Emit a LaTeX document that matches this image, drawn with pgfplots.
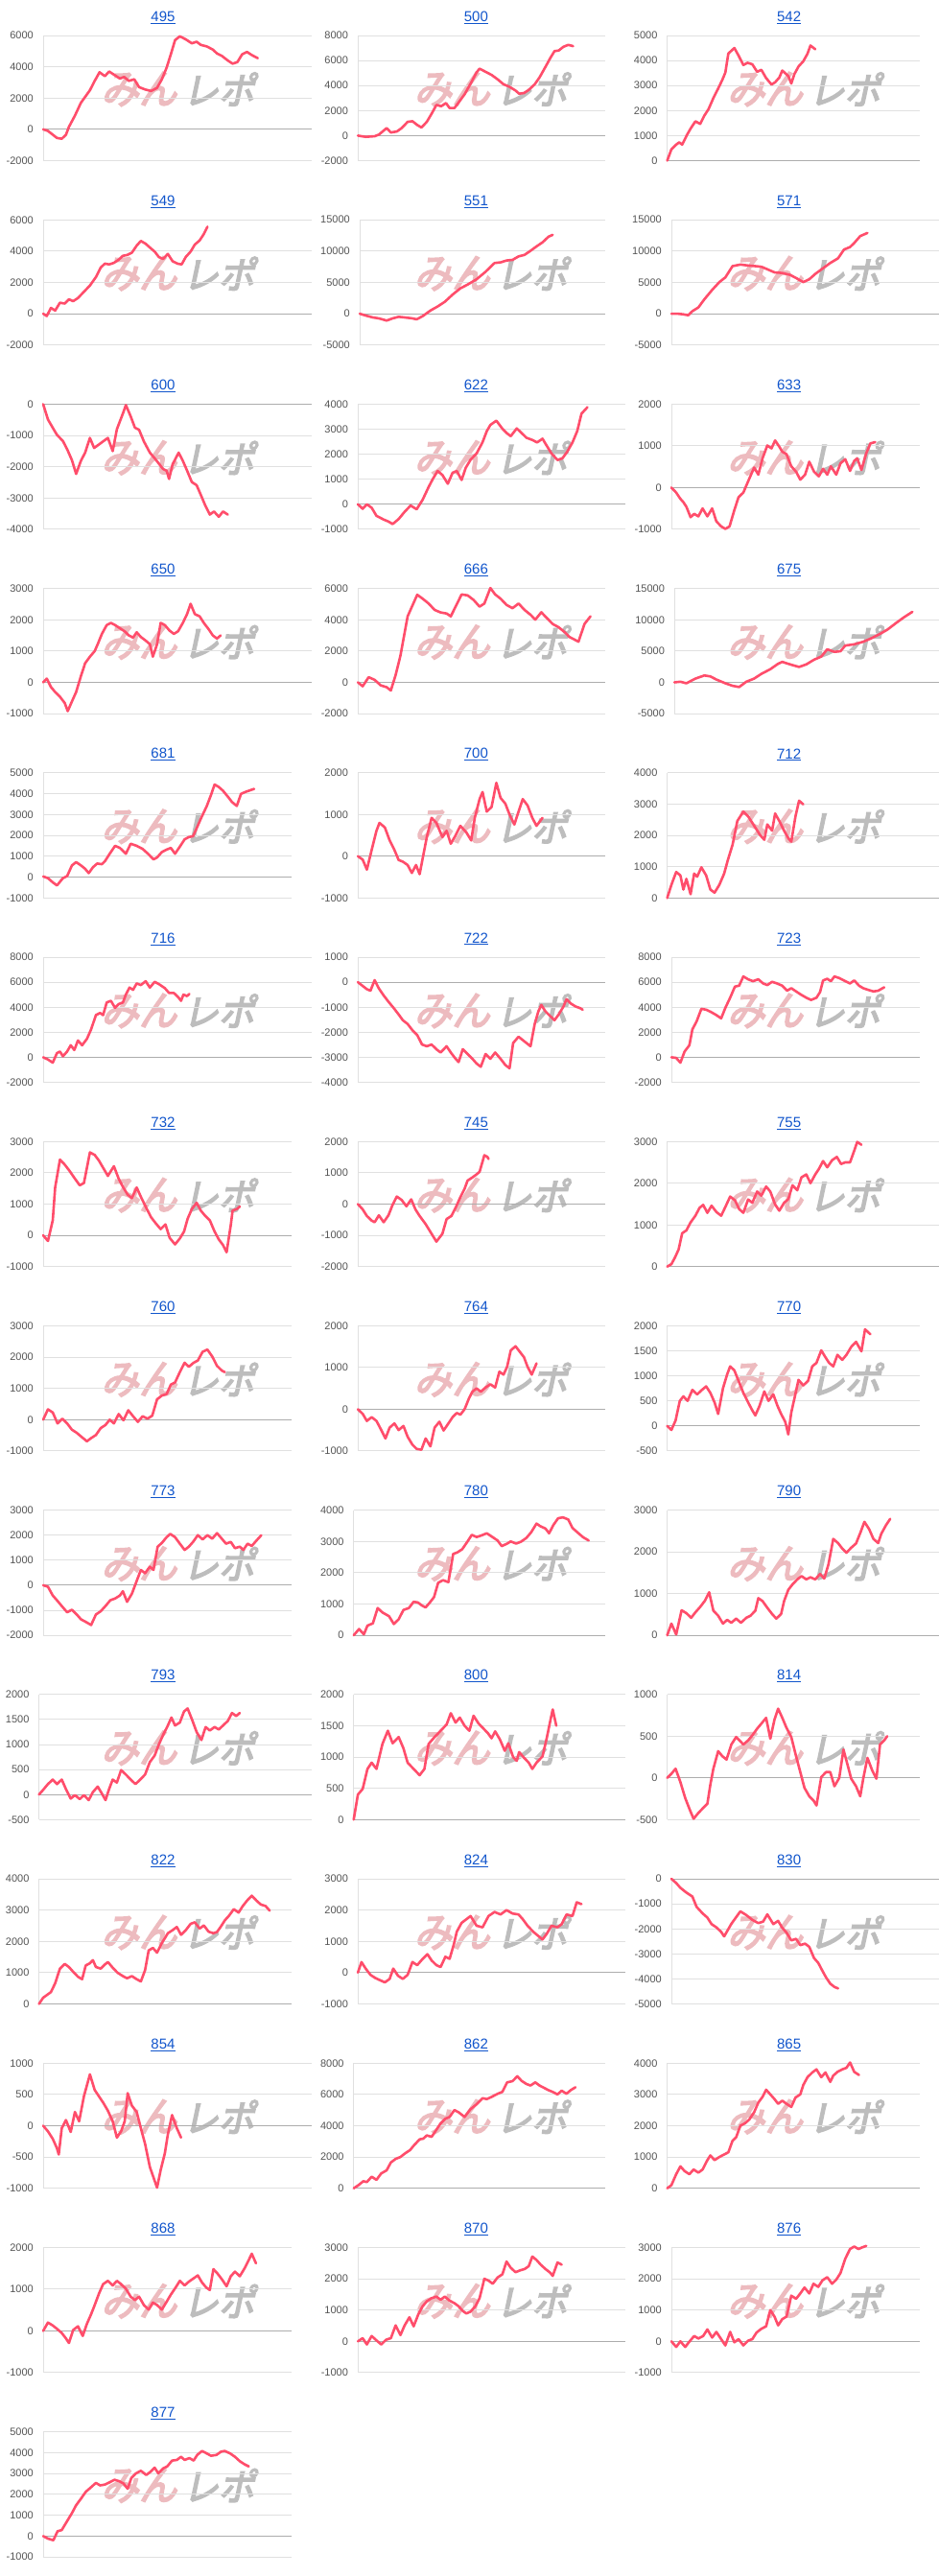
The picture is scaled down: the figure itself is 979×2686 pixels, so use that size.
\documentclass[border=0pt]{standalone}
\usepackage{pgfplots}
\pgfplotsset{compat=1.18}
\usepackage{fontspec}
\setmainfont{Liberation Sans}
\newfontfamily\wmfont[FakeBold=4,FakeSlant=0.22]{Noto Sans CJK JP}
\definecolor{linecol}{HTML}{FF4D6B}
\definecolor{gridcol}{HTML}{E0E0E0}
\definecolor{basecol}{HTML}{ADADAD}
\definecolor{tickcol}{HTML}{555555}
\definecolor{titlecol}{HTML}{1155CC}
\definecolor{wmpink}{HTML}{EDBBBF}
\definecolor{wmgray}{HTML}{BDBDBD}
\pgfplotsset{mini/.style={scale only axis, height=130.5pt,
  axis x line=none, axis y line*=left,
  y axis line style={draw=gridcol, line width=1pt},
  xtick=\empty, ymajorgrids, major grid style={draw=gridcol, line width=1pt},
  major tick length=0pt, tick style={draw=none}, scaled y ticks=false,
  yticklabel style={font=\fontsize{11}{13}\selectfont, text=tickcol, anchor=east, inner sep=0pt, xshift=-10pt,
    /pgf/number format/fixed, /pgf/number format/precision=0,
    /pgf/number format/1000 sep={}, /pgf/number format/assume math mode=true},
  extra y ticks={0}, extra y tick labels={},
  extra y tick style={grid=major, major grid style={draw=basecol, line width=1pt}},
  clip=false}}
% #1 L, #2 R (display units), #3 row, #4 col, #5 ymin, #6 ymax, #7 step, #8 title, #9 coords
\newcommand{\chart}[9]{%
  \pgfmathsetmacro\Lx{#1/1.6}%
  \pgfmathsetmacro\Wd{(#2-#1)/1.6}%
  \pgfmathsetmacro\Ty{-(#3*192.2)}%
  \pgfmathsetmacro\By{\Ty-167.5}%
  \pgfmathsetmacro\Tx{#4*326.33+170}%
  \pgfmathsetmacro\Tt{\Ty-18}%
  \pgfmathsetmacro\Wa{#4*326.33+145}%
  \pgfmathsetmacro\Wb{#4*326.33+228}%
  \pgfmathsetmacro\Wy{\Ty-93}%
  \node[text=wmpink, inner sep=0pt] at (\Wa pt,\Wy pt) {\resizebox{79pt}{33pt}{\wmfont みん}};
  \node[text=wmgray, inner sep=0pt] at (\Wb pt,\Wy pt) {\resizebox{75pt}{33pt}{\wmfont レポ}};
  \node[font=\fontsize{15}{18}\selectfont, text=titlecol, inner sep=0pt] at (\Tx pt,\Tt pt) {\underline{#8}};
  \begin{axis}[mini, at={(\Lx pt,\By pt)}, anchor=south west, width=\Wd pt,
    xmin=#1, xmax=#2, ymin=#5, ymax=#6, ytick distance=#7]
  \addplot[linecol, line width=2.6pt, line join=round, line cap=round, mark=none] coordinates {#9};
  \end{axis}%
}
\begin{document}
\begin{tikzpicture}[x=1pt,y=1pt]
\useasboundingbox (0,0) rectangle (979pt,-2686pt);
\fill[white] (0,0) rectangle (979pt,-2686pt);
% row 0
\chart{72}{520}{0}{0}{-2000}{6000}{2000}{495}{(72,0)(80,-100)(95,-550)(103,-600)(110,-350)(115,160)(125,880)(135,1700)(150,2500)(158,3100)(166,3650)(175,3400)(182,3700)(192,3450)(200,3250)(207,3350)(215,3100)(224,3200)(232,2700)(242,2550)(252,2450)(262,2650)(270,3200)(278,3950)(285,4800)(292,5700)(300,5950)(310,5750)(320,5500)(328,5600)(335,5400)(345,5300)(355,5100)(362,4850)(370,4700)(380,4400)(388,4200)(396,4300)(404,4800)(412,4950)(420,4750)(430,4550)}
\chart{597}{1010}{0}{1}{-2000}{8000}{2000}{500}{(597,0)(610,-100)(625,-50)(632,80)(645,600)(652,250)(662,330)(670,600)(680,1100)(688,1150)(696,850)(703,650)(712,1100)(720,1750)(728,2450)(736,2350)(744,2600)(750,2200)(758,2200)(765,2650)(775,3300)(785,4150)(795,5050)(800,5350)(810,5100)(820,4850)(830,4500)(840,4100)(850,3900)(860,3600)(866,3350)(874,3400)(882,3650)(892,4100)(900,4650)(910,5500)(918,6200)(925,6750)(932,6800)(940,7100)(948,7250)(956,7150)}
\chart{1113}{1535}{0}{2}{0}{5000}{1000}{542}{(1113,0)(1120,450)(1128,640)(1133,730)(1138,640)(1146,1030)(1152,1280)(1160,1570)(1168,1470)(1175,1800)(1182,2060)(1190,2500)(1198,2880)(1205,3230)(1210,3520)(1215,4280)(1225,4500)(1232,4200)(1240,3820)(1247,3910)(1255,3850)(1263,3550)(1270,3630)(1278,3300)(1287,3040)(1293,3130)(1300,3320)(1305,3600)(1315,3380)(1320,3080)(1325,3450)(1332,3760)(1340,3970)(1347,4270)(1352,4600)(1360,4450)}
% row 1
\chart{72}{520}{1}{0}{-2000}{6000}{2000}{549}{(72,0)(78,-150)(85,370)(92,200)(100,700)(108,650)(115,920)(122,800)(130,1000)(140,1400)(150,1800)(160,2340)(168,2950)(175,3200)(182,3150)(190,3250)(198,3450)(205,3700)(212,3750)(220,3900)(228,4350)(235,4650)(243,4470)(250,4230)(258,3970)(265,3620)(272,3500)(280,3820)(288,3350)(296,3200)(303,3150)(310,3630)(318,3970)(325,4420)(333,4680)(340,5090)(346,5560)}
\chart{600}{1010}{1}{1}{-5000}{15000}{5000}{551}{(600,0)(612,-350)(622,-600)(632,-750)(645,-1100)(655,-750)(665,-500)(675,-600)(688,-750)(695,-900)(705,-400)(718,500)(730,1150)(742,1900)(755,3050)(768,4050)(780,4650)(795,5500)(810,6700)(825,8100)(835,8200)(845,8500)(855,8600)(865,9150)(875,9400)(885,10050)(895,10750)(905,11400)(915,12300)(922,12600)}
\chart{1120}{1568}{1}{2}{-5000}{15000}{5000}{571}{(1120,0)(1130,0)(1140,-100)(1148,-250)(1155,400)(1165,1000)(1175,2300)(1188,3800)(1200,5050)(1210,5800)(1222,7600)(1235,7850)(1248,7700)(1260,7600)(1270,7500)(1280,7100)(1292,6600)(1305,6500)(1318,6200)(1328,5700)(1340,5050)(1350,5500)(1360,6350)(1372,7200)(1385,8100)(1398,8850)(1408,10250)(1418,10650)(1425,11300)(1435,12400)(1447,12900)}
% row 2
\chart{72}{520}{2}{0}{-4000}{0}{1000}{600}{(72,0)(80,-490)(90,-820)(95,-980)(105,-1180)(112,-1440)(120,-1790)(127,-2230)(135,-1810)(142,-1550)(150,-1080)(157,-1400)(165,-1290)(172,-1190)(180,-1080)(188,-1500)(195,-800)(205,-300)(210,-30)(218,-390)(225,-750)(232,-820)(240,-1190)(250,-1550)(258,-1730)(265,-1900)(272,-2070)(278,-2130)(282,-2390)(288,-1920)(298,-1550)(305,-1810)(312,-2120)(320,-2490)(328,-2590)(335,-2900)(342,-3220)(350,-3530)(357,-3430)(365,-3600)(372,-3430)(380,-3530)}
\chart{597}{1043}{2}{1}{-1000}{4000}{1000}{622}{(597,0)(605,-180)(612,0)(620,-140)(628,-460)(640,-610)(648,-690)(655,-790)(665,-590)(675,-300)(685,-50)(695,-200)(705,180)(715,690)(722,1010)(730,1330)(738,1170)(747,820)(755,1260)(762,1330)(770,970)(777,1460)(785,1780)(795,2030)(805,2480)(812,2920)(818,3170)(828,3340)(838,3020)(845,2850)(852,2720)(862,3030)(870,2850)(878,2660)(888,2570)(896,2470)(905,2620)(912,2340)(920,2030)(930,1770)(938,1830)(946,2090)(955,2470)(963,2930)(970,3620)(980,3880)}
\chart{1120}{1535}{2}{2}{-1000}{2000}{1000}{633}{(1120,0)(1128,-120)(1135,-270)(1140,-350)(1145,-460)(1152,-710)(1158,-630)(1165,-690)(1172,-500)(1180,-690)(1188,-500)(1195,-810)(1203,-930)(1210,-990)(1217,-930)(1225,-540)(1232,-230)(1240,-120)(1248,150)(1258,480)(1265,310)(1272,700)(1280,1010)(1287,940)(1293,1130)(1300,980)(1305,860)(1312,800)(1320,510)(1328,380)(1335,190)(1343,310)(1350,620)(1358,380)(1366,270)(1373,450)(1380,310)(1386,510)(1395,310)(1402,580)(1410,680)(1418,400)(1425,640)(1430,700)(1437,420)(1445,820)(1452,1060)(1460,1090)}
% row 3
\chart{72}{520}{3}{0}{-1000}{3000}{1000}{650}{(72,0)(78,120)(85,-150)(92,-310)(100,-460)(108,-660)(113,-920)(120,-610)(127,-310)(135,200)(142,610)(150,820)(158,1000)(163,1220)(170,1550)(178,1830)(185,1900)(192,1830)(200,1730)(208,1630)(215,1500)(222,1430)(228,1600)(235,1450)(242,1350)(250,1220)(255,820)(262,1220)(268,1900)(275,1830)(283,1650)(290,1550)(297,1630)(305,1900)(312,2180)(318,2510)(325,2180)(333,2110)(340,1900)(348,1700)(355,1500)(362,1400)(368,1500)}
\chart{597}{1010}{3}{1}{-2000}{6000}{2000}{666}{(597,0)(605,-250)(615,330)(625,160)(635,-190)(645,-310)(652,-520)(660,470)(668,1710)(680,4220)(696,5600)(705,5350)(715,5040)(725,4630)(735,4470)(745,4400)(752,4220)(760,4840)(770,5620)(780,5560)(790,5270)(800,4840)(808,5040)(818,6030)(826,5620)(835,5350)(845,4950)(855,4740)(865,5040)(875,4630)(885,4320)(893,4010)(903,4480)(912,4120)(922,3730)(932,3520)(942,3210)(950,2900)(960,2700)(965,2600)(975,3730)(985,4220)}
\chart{1125}{1568}{3}{2}{-5000}{15000}{5000}{675}{(1125,0)(1135,100)(1145,-150)(1160,600)(1175,1100)(1185,950)(1195,450)(1210,-150)(1222,-550)(1233,-750)(1245,100)(1258,600)(1270,1350)(1285,2100)(1298,2970)(1305,3270)(1318,2870)(1333,2460)(1345,2870)(1358,3620)(1370,4120)(1380,5280)(1392,4870)(1402,4970)(1410,5880)(1425,6080)(1440,6490)(1452,6980)(1465,7590)(1480,8400)(1495,9500)(1508,10400)(1522,11270)}
% row 4
\chart{72}{487}{4}{0}{-1000}{5000}{1000}{681}{(72,30)(80,-50)(88,-250)(95,-400)(105,-50)(112,50)(120,560)(127,720)(135,560)(142,400)(148,190)(155,470)(162,650)(170,620)(175,760)(183,1120)(192,1500)(200,1400)(210,1120)(218,1600)(228,1500)(238,1350)(248,1090)(256,850)(262,940)(270,1200)(278,1320)(285,1400)(292,1120)(300,1460)(308,1810)(315,1920)(322,1960)(328,2340)(335,2800)(345,3410)(352,3940)(358,4440)(365,4320)(372,4140)(380,3860)(387,3600)(395,3410)(402,3990)(410,4090)(418,4170)(424,4230)}
\chart{597}{1010}{4}{1}{-1000}{2000}{1000}{700}{(597,0)(605,-80)(612,-320)(620,150)(628,610)(633,800)(642,690)(650,380)(658,150)(665,-90)(672,-130)(680,-210)(687,-400)(694,-210)(700,-430)(712,460)(720,920)(728,800)(738,460)(745,610)(752,300)(760,500)(768,730)(778,570)(786,380)(792,920)(800,1370)(805,1540)(812,1070)(820,1180)(828,1760)(835,1400)(843,1260)(850,1000)(858,760)(865,1070)(872,1370)(880,1220)(888,920)(895,730)(905,920)}
\chart{1113}{1568}{4}{2}{0}{4000}{1000}{712}{(1113,0)(1120,420)(1128,830)(1135,720)(1140,270)(1145,610)(1152,120)(1158,780)(1163,680)(1170,980)(1178,720)(1185,270)(1192,170)(1200,420)(1208,780)(1214,1200)(1222,1700)(1230,2460)(1240,2760)(1248,2610)(1258,2310)(1268,2010)(1275,1860)(1280,2350)(1288,2150)(1293,2700)(1300,2460)(1308,2150)(1315,1910)(1320,1800)(1327,2610)(1333,3110)(1340,2990)}
% row 5
\chart{72}{520}{5}{0}{-2000}{8000}{2000}{716}{(72,0)(80,-180)(88,-430)(95,330)(100,460)(105,80)(112,460)(118,960)(124,580)(130,1340)(137,960)(145,1470)(152,2230)(160,3370)(167,3540)(172,3370)(178,4380)(185,4510)(192,3950)(198,4250)(205,4380)(210,5010)(216,5570)(222,5390)(228,5900)(235,5770)(243,6080)(250,5570)(258,6030)(266,5820)(275,5520)(282,5140)(290,5140)(298,4760)(302,4510)(306,5010)(312,4890)(316,5060)}
\chart{597}{1010}{5}{1}{-4000}{1000}{1000}{722}{(597,0)(605,-150)(612,-280)(618,-340)(625,80)(632,-250)(640,-530)(648,-780)(657,-1040)(665,-1290)(672,-1520)(680,-1670)(688,-1920)(696,-2110)(704,-2490)(712,-2560)(720,-2490)(728,-2680)(735,-2810)(745,-2560)(752,-2810)(760,-3060)(765,-3190)(772,-2680)(780,-2870)(788,-3060)(795,-3250)(802,-3380)(810,-2870)(818,-3060)(826,-2810)(835,-3060)(843,-3310)(850,-3440)(856,-2430)(865,-2180)(875,-2370)(885,-2560)(892,-1670)(898,-1170)(903,-910)(910,-1170)(918,-1360)(925,-1520)(932,-1290)(940,-970)(945,-680)(952,-850)(960,-970)(968,-1040)(972,-1100)}
\chart{1120}{1535}{5}{2}{-2000}{8000}{2000}{723}{(1120,0)(1128,-50)(1135,-430)(1142,460)(1150,960)(1155,2230)(1162,2860)(1170,3870)(1178,3800)(1186,3620)(1195,3370)(1203,3110)(1210,3950)(1218,4760)(1226,5650)(1233,5720)(1240,6460)(1248,6230)(1256,6080)(1265,6230)(1273,5900)(1280,5770)(1288,6030)(1296,5900)(1305,5720)(1313,5320)(1320,5520)(1328,5260)(1336,5010)(1345,4760)(1353,4580)(1362,4760)(1368,5210)(1373,6140)(1380,6270)(1386,6080)(1392,6460)(1400,6330)(1410,6080)(1418,5900)(1425,6140)(1433,5720)(1440,5520)(1448,5390)(1457,5260)(1465,5320)(1475,5590)}
% row 6
\chart{72}{487}{6}{0}{-1000}{3000}{1000}{732}{(72,0)(80,-180)(88,480)(92,1530)(100,2420)(108,2260)(116,2060)(125,1810)(133,1600)(140,1670)(150,2650)(158,2570)(165,2390)(172,2160)(180,1900)(190,2210)(198,1810)(205,1550)(213,1300)(220,1190)(228,1530)(236,1190)(245,840)(252,580)(260,380)(268,200)(276,350)(283,-80)(292,-290)(300,-100)(307,120)(313,530)(320,840)(328,1040)(335,790)(342,630)(350,480)(358,120)(365,-130)(372,-310)(378,-540)(385,330)(388,790)(395,840)(400,920)}
\chart{597}{1010}{6}{1}{-2000}{2000}{1000}{745}{(597,0)(605,-170)(612,-380)(620,-530)(625,-580)(632,-360)(640,-580)(648,-360)(655,-20)(662,240)(670,130)(678,-70)(686,150)(693,-170)(700,-380)(710,-640)(718,-890)(728,-1200)(738,-950)(745,-480)(753,-380)(760,-120)(767,180)(775,490)(780,750)(788,850)(795,950)(800,1030)(805,1360)(808,1560)(813,1510)(815,1440)}
\chart{1113}{1568}{6}{2}{0}{3000}{1000}{755}{(1113,0)(1120,60)(1126,220)(1132,410)(1138,800)(1145,870)(1152,1060)(1160,1220)(1167,1410)(1173,1480)(1180,1290)(1187,1460)(1195,1310)(1203,1220)(1210,1430)(1218,1680)(1226,1590)(1233,1380)(1240,1290)(1248,1610)(1255,1530)(1263,1800)(1270,1700)(1278,1920)(1285,1800)(1293,1490)(1300,1340)(1308,1530)(1315,1620)(1322,1950)(1330,1830)(1337,2140)(1345,2210)(1352,2000)(1360,2210)(1366,2340)(1373,2530)(1380,2380)(1388,2550)(1396,2630)(1403,2460)(1410,2500)(1418,2500)(1425,2780)(1430,2990)(1437,2920)}
% row 7
\chart{72}{487}{7}{0}{-1000}{3000}{1000}{760}{(72,0)(80,330)(88,230)(96,-120)(104,30)(112,-120)(120,-320)(128,-420)(136,-550)(145,-690)(152,-590)(160,-490)(168,-270)(176,-170)(183,0)(190,-120)(198,180)(206,-20)(214,300)(222,110)(230,-70)(238,110)(246,30)(254,130)(262,650)(270,770)(278,820)(285,1120)(292,1190)(300,1520)(308,1820)(315,1690)(323,1820)(330,1890)(338,2170)(346,2240)(354,2020)(362,1720)(370,1570)(375,1520)}
\chart{597}{1010}{7}{1}{-1000}{2000}{1000}{764}{(597,0)(605,-110)(612,-280)(620,-190)(628,-280)(635,-470)(643,-700)(650,-440)(658,-340)(665,-500)(673,-400)(680,-660)(688,-850)(695,-950)(703,-970)(710,-700)(718,-890)(725,-440)(733,-300)(740,-510)(748,-340)(755,-190)(762,-90)(768,-130)(775,0)(782,250)(788,420)(795,500)(802,420)(810,520)(818,600)(826,520)(833,900)(840,830)(846,1020)(852,1410)(860,1510)(868,1360)(874,1250)(880,1020)(887,830)(895,1100)}
\chart{1113}{1535}{7}{2}{-500}{2000}{500}{770}{(1113,0)(1120,-80)(1127,110)(1134,500)(1140,590)(1147,500)(1155,720)(1163,630)(1170,710)(1178,790)(1185,660)(1192,470)(1198,240)(1206,750)(1213,1030)(1218,1190)(1225,1110)(1232,900)(1240,660)(1248,470)(1255,310)(1260,210)(1267,400)(1275,690)(1282,500)(1290,630)(1297,400)(1303,240)(1310,80)(1315,-170)(1320,270)(1326,590)(1332,920)(1340,810)(1348,900)(1355,1190)(1362,1260)(1370,1510)(1376,1390)(1383,1260)(1390,1190)(1397,1420)(1405,1320)(1412,1420)(1420,1580)(1428,1680)(1437,1490)(1443,1930)(1452,1830)}
% row 8
\chart{72}{487}{8}{0}{-2000}{3000}{1000}{773}{(72,0)(80,-60)(88,-410)(95,-600)(103,-830)(112,-1080)(120,-980)(128,-1170)(135,-1360)(145,-1490)(152,-1590)(160,-1170)(168,-1040)(176,-830)(184,-600)(192,-530)(200,-410)(205,-240)(212,-660)(220,-340)(228,170)(235,610)(242,480)(250,740)(256,610)(263,1540)(270,1690)(278,1920)(284,2050)(292,1920)(300,1660)(308,1410)(315,1540)(322,1730)(330,2000)(338,1830)(346,2000)(354,1860)(362,2080)(370,1860)(377,1660)(385,1730)(392,1480)(400,1540)(406,1410)(413,1660)(420,1570)(428,1790)(436,2000)}
\chart{590}{1010}{8}{1}{0}{4000}{1000}{780}{(590,0)(599,200)(607,30)(613,310)(622,380)(630,870)(638,730)(649,610)(657,360)(665,510)(673,810)(682,870)(690,1070)(697,1050)(704,950)(710,890)(718,1070)(724,1220)(731,1680)(739,1760)(748,1700)(756,2600)(763,2650)(771,2750)(780,3000)(787,3210)(795,3140)(803,3190)(812,3260)(820,3160)(830,3030)(837,2850)(846,2930)(852,3000)(861,2930)(869,2990)(878,3110)(886,3290)(895,3570)(901,3490)(910,3410)(916,3260)(923,3520)(931,3740)(939,3770)(948,3700)(955,3430)(965,3260)(973,3130)(982,3030)}
\chart{1113}{1568}{8}{2}{0}{3000}{1000}{790}{(1113,0)(1120,280)(1128,20)(1137,600)(1145,530)(1153,420)(1160,550)(1168,680)(1176,830)(1183,1030)(1190,590)(1198,470)(1206,280)(1213,370)(1220,300)(1228,400)(1236,300)(1245,420)(1252,470)(1260,590)(1265,890)(1272,820)(1280,660)(1288,510)(1295,400)(1303,510)(1308,820)(1315,1090)(1322,1220)(1330,1340)(1337,1420)(1345,1340)(1352,1390)(1360,1340)(1368,1470)(1375,1360)(1382,1700)(1390,2310)(1398,2210)(1405,2080)(1412,1980)(1420,2100)(1428,2200)(1435,2450)(1442,2720)(1450,2540)(1457,2310)(1465,2210)(1470,2430)(1478,2640)(1485,2790)}
% row 9
\chart{65}{520}{9}{0}{-500}{2000}{500}{793}{(65,0)(72,95)(80,210)(88,300)(95,210)(103,300)(110,110)(118,-80)(125,-10)(133,-90)(140,-10)(148,-110)(155,50)(163,160)(170,20)(176,-110)(182,110)(188,300)(195,240)(202,490)(210,400)(218,300)(226,210)(234,300)(242,400)(250,650)(258,780)(265,1000)(272,1190)(280,1380)(286,1540)(292,1380)(300,1440)(307,1660)(313,1720)(320,1510)(328,1250)(336,1090)(343,1350)(350,1280)(358,1350)(365,1300)(372,1380)(380,1470)(387,1630)(394,1570)(400,1630)}
\chart{590}{1043}{9}{1}{0}{2000}{500}{800}{(590,0)(597,400)(605,490)(613,810)(620,910)(628,810)(638,1210)(647,1420)(655,1220)(665,1320)(673,1140)(680,910)(690,810)(700,710)(708,810)(715,1210)(725,1320)(735,1420)(745,1520)(752,1700)(760,1550)(767,1630)(775,1500)(783,1420)(790,1660)(798,1540)(806,1460)(814,1380)(820,1300)(826,1410)(834,1280)(842,1100)(848,1220)(856,1000)(862,940)(866,1080)(874,990)(882,910)(888,810)(895,910)(905,1010)(912,1300)(918,1580)(922,1760)(928,1500)}
\chart{1113}{1535}{9}{2}{-500}{1000}{500}{814}{(1113,0)(1120,50)(1127,110)(1135,-50)(1143,-240)(1150,-370)(1157,-490)(1165,-420)(1173,-360)(1180,-310)(1185,-80)(1190,110)(1198,320)(1205,260)(1212,220)(1220,400)(1228,490)(1235,440)(1240,400)(1248,450)(1255,510)(1263,590)(1270,650)(1278,720)(1285,470)(1292,700)(1298,830)(1305,720)(1312,600)(1320,490)(1328,260)(1335,70)(1342,-120)(1350,-220)(1357,-270)(1362,-330)(1370,10)(1378,70)(1385,70)(1392,-100)(1400,0)(1407,340)(1413,180)(1420,-10)(1428,-100)(1435,-220)(1440,-10)(1447,240)(1455,90)(1462,-10)(1468,400)(1475,450)(1480,500)}
% row 10
\chart{65}{487}{10}{0}{0}{4000}{1000}{822}{(65,0)(72,200)(80,310)(85,380)(92,660)(100,1130)(108,1280)(115,1180)(122,1030)(130,870)(137,790)(143,1230)(150,1300)(155,1400)(160,1180)(168,1130)(175,1260)(180,1340)(188,1160)(196,1000)(205,890)(212,820)(220,890)(228,790)(235,720)(242,1080)(248,1710)(255,1790)(262,1640)(270,1950)(275,2100)(280,2260)(288,2360)(295,2460)(302,2210)(310,2360)(318,2560)(325,2610)(333,2410)(340,2510)(348,2310)(356,2260)(362,2300)(368,2460)(375,2670)(382,2820)(390,3030)(398,2920)(405,3130)(412,3300)(420,3460)(428,3300)(435,3180)(443,3130)(450,2980)}
\chart{597}{1043}{10}{1}{-1000}{3000}{1000}{824}{(597,0)(603,340)(610,130)(618,-70)(626,-170)(635,-250)(642,-310)(650,-200)(656,130)(664,-100)(672,-200)(680,-70)(688,340)(696,240)(705,440)(713,590)(720,390)(728,240)(735,180)(743,510)(750,440)(757,900)(762,1310)(770,1590)(785,1810)(795,1500)(805,1450)(815,1810)(825,1940)(835,1860)(845,2000)(855,1890)(865,1860)(872,1710)(880,1500)(890,1300)(905,1060)(912,1240)(920,1500)(930,1450)(937,1550)(945,1860)(955,1810)(962,2250)(970,2190)}
\chart{1120}{1568}{10}{2}{-5000}{0}{1000}{830}{(1120,0)(1128,-170)(1135,-360)(1145,-550)(1155,-710)(1162,-1120)(1172,-1380)(1180,-1550)(1187,-1810)(1195,-1940)(1203,-2120)(1208,-2300)(1220,-1800)(1235,-1300)(1245,-1450)(1255,-1640)(1265,-1770)(1273,-1710)(1280,-1420)(1290,-1810)(1298,-1680)(1305,-1960)(1312,-2150)(1320,-2460)(1328,-2400)(1335,-2650)(1343,-2590)(1350,-2720)(1358,-3170)(1365,-3360)(1372,-3680)(1378,-3940)(1385,-4190)(1392,-4320)(1398,-4380)}
% row 11
\chart{72}{520}{11}{0}{-1000}{1000}{500}{854}{(72,0)(80,-90)(88,-210)(95,-360)(98,-460)(103,-40)(110,90)(118,-100)(125,220)(132,70)(140,470)(150,820)(158,570)(165,470)(172,370)(180,240)(188,70)(195,-190)(202,-90)(208,70)(213,520)(220,320)(228,220)(235,-40)(242,-290)(250,-660)(258,-880)(262,-990)(268,-710)(275,-440)(280,-140)(287,170)(295,-40)(302,-190)}
\chart{590}{1010}{11}{1}{0}{8000}{2000}{862}{(590,0)(598,200)(606,450)(612,400)(620,740)(628,540)(636,950)(645,1150)(652,1650)(660,1880)(668,2000)(676,2240)(684,2440)(690,2720)(700,3130)(706,3170)(712,3380)(720,3290)(728,3740)(735,4150)(743,4450)(750,4560)(758,5000)(765,4860)(775,4560)(785,5060)(795,5370)(805,5760)(812,5700)(820,5840)(830,6040)(838,6160)(846,6770)(855,6850)(863,7160)(870,6870)(878,6670)(885,6570)(893,6770)(900,6570)(908,6410)(915,6270)(922,6160)(930,6000)(937,6240)(945,6040)(952,6270)(960,6460)}
\chart{1113}{1535}{11}{2}{0}{4000}{1000}{865}{(1113,0)(1120,100)(1128,450)(1135,700)(1142,550)(1150,450)(1157,600)(1165,500)(1172,600)(1180,900)(1185,1050)(1192,900)(1200,1000)(1208,1080)(1215,1150)(1222,1520)(1228,1630)(1235,2000)(1243,2080)(1250,2200)(1258,2430)(1265,2740)(1272,2920)(1278,3150)(1285,3000)(1292,2850)(1298,2700)(1305,2800)(1312,2700)(1320,2600)(1327,2900)(1335,3000)(1340,3300)(1347,3550)(1355,3700)(1362,3800)(1370,3550)(1377,3700)(1385,3400)(1390,3600)(1397,3720)(1405,3800)(1412,3850)(1418,4020)(1425,3720)(1433,3620)}
% row 12
\chart{72}{487}{12}{0}{-1000}{2000}{1000}{868}{(72,0)(80,200)(88,130)(95,50)(103,-50)(110,-180)(115,-290)(122,20)(130,110)(138,-120)(145,170)(152,400)(158,620)(165,890)(172,1120)(180,1200)(188,1090)(195,1200)(202,1120)(210,1010)(218,820)(225,740)(232,820)(240,620)(248,510)(255,680)(262,620)(270,510)(278,700)(285,870)(293,1040)(300,1200)(308,1090)(315,1180)(322,1250)(330,1330)(337,1160)(344,1040)(350,980)(356,1480)(362,1390)(370,1240)(378,1070)(385,1310)(392,1420)(400,1310)(408,1500)(415,1700)(420,1850)(427,1620)}
\chart{597}{1043}{12}{1}{-1000}{3000}{1000}{870}{(597,0)(605,100)(612,-100)(620,170)(628,30)(636,-100)(644,50)(652,100)(660,510)(668,200)(675,510)(683,770)(690,480)(698,870)(705,1120)(712,1280)(720,1380)(728,1430)(735,1330)(742,1430)(750,1300)(758,1220)(765,1120)(772,970)(778,890)(785,950)(793,1120)(800,1380)(808,2000)(815,1940)(822,1840)(830,2040)(838,2140)(845,2550)(852,2350)(860,2210)(868,2270)(875,2310)(882,2400)(888,2710)(895,2600)(902,2450)(910,2310)(918,2190)(922,2090)(930,2520)(937,2450)}
\chart{1120}{1535}{12}{2}{-1000}{3000}{1000}{876}{(1120,0)(1128,-180)(1135,0)(1143,-180)(1150,-10)(1158,170)(1165,90)(1173,170)(1180,380)(1188,120)(1195,300)(1203,70)(1210,-130)(1218,300)(1225,-30)(1232,70)(1240,-130)(1248,20)(1255,70)(1262,280)(1270,400)(1278,480)(1285,1000)(1292,790)(1298,510)(1305,710)(1312,790)(1320,1460)(1328,1360)(1335,1530)(1342,1720)(1350,1530)(1357,1840)(1365,1740)(1372,1950)(1380,2050)(1388,1840)(1395,1970)(1402,2180)(1410,2640)(1418,2950)(1425,3030)(1432,2950)(1438,3000)(1445,3050)}
% row 13
\chart{72}{487}{13}{0}{-1000}{5000}{1000}{877}{(72,0)(80,-120)(89,-200)(96,230)(103,290)(112,720)(120,1100)(127,1480)(135,1790)(143,2120)(151,2320)(160,2550)(167,2430)(175,2470)(183,2580)(191,2700)(199,2630)(206,2520)(213,2270)(219,2780)(227,3010)(235,3130)(244,2930)(251,3080)(258,3280)(264,3010)(272,3240)(279,3340)(287,3620)(295,3650)(302,3800)(308,3650)(316,3740)(323,3620)(329,3890)(337,4080)(345,3960)(352,3850)(361,3890)(369,4050)(375,4080)(384,3960)(392,3800)(400,3590)(408,3440)(415,3340)}
\end{tikzpicture}
\end{document}
